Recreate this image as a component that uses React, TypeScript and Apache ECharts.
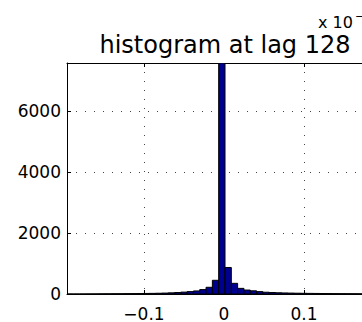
import React, { useEffect, useRef } from "react";
import * as echarts from "echarts";

// Histogram of lag-128 differences: 50 equal-width bins
const binStart = -0.1962;
const binWidth = 0.0079;
const counts = [
  0, 0, 1, 2, 3, 5, 6, 8, 9, 11,
  13, 15, 18, 21, 25, 30, 38, 48, 62, 78,
  100, 145, 220, 450, 7580, 870, 350, 185, 130, 105,
  78, 58, 48, 40, 34, 30, 26, 23, 20, 18,
  16, 14, 12, 10, 9, 8, 6, 5, 4, 3,
];

const xTicks = [-0.1, 0, 0.1];
const yMax = 7580;
const titleText = "histogram at lag 128";

const FONT = "DejaVu Sans";

export default function App() {
  const ref = useRef<HTMLDivElement>(null);

  useEffect(() => {
    if (!ref.current) return;
    const chart = echarts.init(ref.current, null, { renderer: "svg" });
    const xMin = binStart;
    const xMax = binStart + counts.length * binWidth;
    const bins = counts.map((c, i) => [
      binStart + i * binWidth,
      binStart + (i + 1) * binWidth,
      c,
    ]);
    const fmtX = (v: number) =>
      v === 0 ? "0" : (v < 0 ? "\u2212" : "") + String(Math.abs(Math.round(v * 10) / 10));

    const axisBox = { show: true, onZero: false, lineStyle: { color: "#000", width: 1 } };
    const dotted = { show: true, lineStyle: { color: "#444", type: [1, 8], width: 1 } };

    chart.setOption({
      animation: false,
      backgroundColor: "#ffffff",
      // plot box runs past the right edge of the canvas
      grid: {
        left: 67,
        top: 63,
        width: 316,
        height: 231,
        containLabel: false,
        outerBoundsMode: "none",
      },
      xAxis: [
        {
          type: "value",
          min: xMin,
          max: xMax,
          position: "bottom",
          axisLine: axisBox,
          axisTick: {
            show: true,
            inside: true,
            length: 4,
            customValues: xTicks,
            lineStyle: { color: "#000" },
          },
          axisLabel: {
            customValues: xTicks,
            formatter: fmtX,
            color: "#000",
            fontFamily: FONT,
            fontSize: 17,
            margin: 11,
          },
          splitLine: dotted,
        },
        {
          type: "value",
          min: xMin,
          max: xMax,
          position: "top",
          axisLine: axisBox,
          axisTick: {
            show: true,
            inside: true,
            length: 4,
            customValues: xTicks,
            lineStyle: { color: "#000" },
          },
          axisLabel: { show: false },
          splitLine: { show: false },
        },
      ],
      yAxis: {
        type: "value",
        min: 0,
        max: yMax,
        interval: 2000,
        axisLine: axisBox,
        axisTick: { show: true, inside: true, length: 4, lineStyle: { color: "#000" } },
        axisLabel: {
          color: "#000",
          fontFamily: FONT,
          fontSize: 17,
          margin: 6,
          showMaxLabel: false,
          formatter: (v: number) => String(v),
        },
        splitLine: dotted,
      },
      series: [
        {
          type: "custom",
          clip: true,
          xAxisIndex: 0,
          data: bins,
          encode: { x: [0, 1], y: 2 },
          renderItem: (_params: any, api: any) => {
            const p0 = api.coord([api.value(0), api.value(2)]);
            const p1 = api.coord([api.value(1), 0]);
            return {
              type: "rect",
              shape: { x: p0[0], y: p0[1], width: p1[0] - p0[0], height: p1[1] - p0[1] },
              style: { fill: "#00008F", stroke: "#000", lineWidth: 1 },
            };
          },
        },
      ],
      graphic: [
        {
          type: "text",
          x: 225,
          y: 57,
          style: {
            text: titleText,
            fontFamily: FONT,
            fontSize: 24,
            fill: "#000",
            textAlign: "center",
            textVerticalAlign: "bottom",
          },
        },
        {
          type: "text",
          x: 318,
          y: 30,
          style: {
            text: "x 10",
            fontFamily: FONT,
            fontSize: 16,
            fill: "#000",
            textAlign: "left",
            textVerticalAlign: "bottom",
          },
        },
        {
          type: "text",
          x: 355,
          y: 22,
          style: {
            text: "\u22123",
            fontFamily: FONT,
            fontSize: 11,
            fill: "#000",
            textAlign: "left",
            textVerticalAlign: "bottom",
          },
        },
      ],
    });
    return () => chart.dispose();
  }, []);

  return (
    <div
      ref={ref}
      style={{ position: "fixed", left: 0, top: 0, width: 362, height: 322 }}
    />
  );
}
